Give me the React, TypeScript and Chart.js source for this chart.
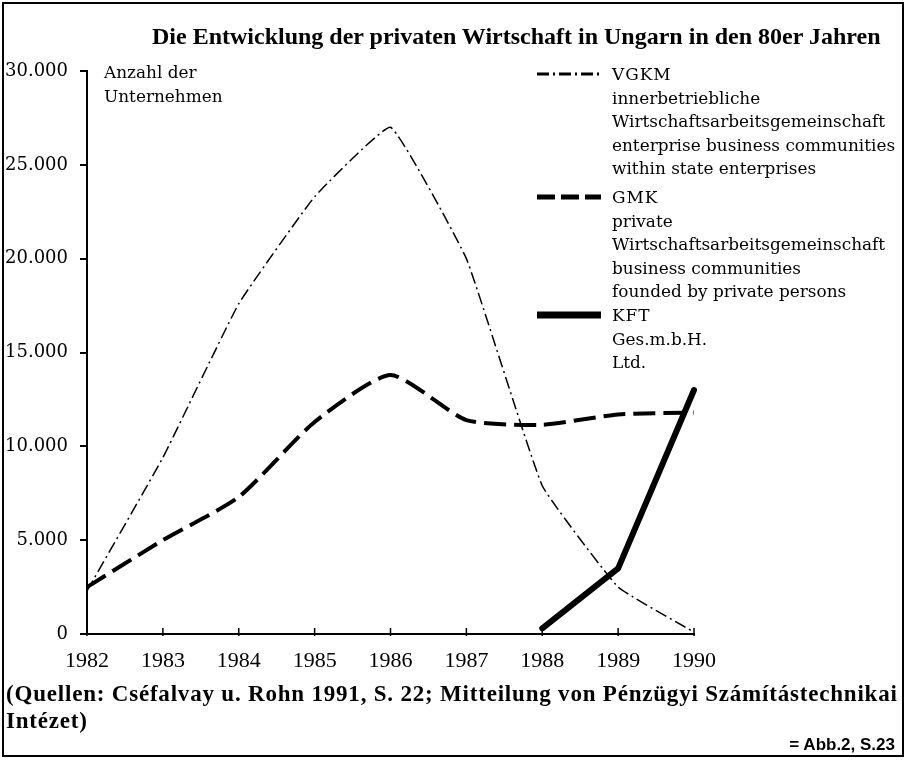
import React, { useEffect, useRef } from "react";
import { Chart, registerables } from "chart.js";

Chart.register(...registerables);

const years = ["1982", "1983", "1984", "1985", "1986", "1987", "1988", "1989", "1990"];
const vgkm = [2300, 9400, 17600, 23300, 27000, 20000, 7900, 2500, 100];
const gmk = [2500, 5000, 7300, 11300, 13800, 11400, 11150, 11700, 11800];
const kft = [null, null, null, null, null, null, 300, 3500, 13000];

const title = "Die Entwicklung der privaten Wirtschaft in Ungarn in den 80er Jahren";
const yTitle = ["Anzahl der", "Unternehmen"];
const legendVGKM = ["VGKM", "innerbetriebliche", "Wirtschaftsarbeitsgemeinschaft", "enterprise business communities", "within state enterprises"];
const legendGMK = ["GMK", "private", "Wirtschaftsarbeitsgemeinschaft", "business communities", "founded by private persons"];
const legendKFT = ["KFT", "Ges.m.b.H.", "Ltd."];
const source1 = "(Quellen: Cséfalvay u. Rohn 1991, S. 22; Mitteilung von Pénzügyi Számítástechnikai";
const source2 = "Intézet)";
const ref = "= Abb.2, S.23";

const SERIF = '"DejaVu Serif", serif';
const TIMES = '"Liberation Serif", serif';

const fmt = (v: number) => String(v).replace(/\B(?=(\d{3})+(?!\d))/g, ".");

const xTickPlugin = {
  id: "xTicksUp",
  afterDraw(chart: any) {
    const x = chart.scales.x;
    const ctx = chart.ctx;
    const bottom = chart.chartArea.bottom;
    ctx.save();
    ctx.strokeStyle = "#000";
    ctx.lineWidth = 1.5;
    years.forEach((_, i) => {
      const px = x.getPixelForValue(i);
      ctx.beginPath();
      ctx.moveTo(px, bottom + 2);
      ctx.lineTo(px, bottom - 6);
      ctx.stroke();
    });
    ctx.restore();
  },
};

function LegendBlock({ lines, top, dash, width }: { lines: string[]; top: number; dash: string; width: number }) {
  return (
    <>
      <svg style={{ position: "absolute", left: 535, top: top - 6, width: 70, height: 12 }}>
        <line x1={2} y1={6} x2={66} y2={6} stroke="#000" strokeWidth={width} strokeDasharray={dash} strokeLinecap="butt" />
      </svg>
      {lines.map((t, i) => (
        <div
          key={i}
          style={{
            position: "absolute",
            left: 612,
            top: top - 12 + i * 23.6,
            height: 24,
            lineHeight: "24px",
            fontFamily: SERIF,
            fontSize: 16.9,
            whiteSpace: "nowrap",
            letterSpacing: i === 0 ? 1 : 0,
            color: "#000",
          }}
        >
          {t}
        </div>
      ))}
    </>
  );
}

export default function App() {
  const canvasRef = useRef<HTMLCanvasElement>(null);

  useEffect(() => {
    const chart = new Chart(canvasRef.current as HTMLCanvasElement, {
      type: "line",
      data: {
        labels: years,
        datasets: [
          {
            label: "VGKM",
            data: vgkm,
            borderColor: "#000",
            borderWidth: 1.5,
            borderDash: [12, 4, 2, 4],
            pointRadius: 0,
            tension: 0.1,
            fill: false,
          },
          {
            label: "GMK",
            data: gmk,
            borderColor: "#000",
            borderWidth: 4,
            borderDash: [22, 8],
            pointRadius: 0,
            tension: 0.2,
            fill: false,
          },
          {
            label: "KFT",
            data: kft,
            borderColor: "#000",
            borderWidth: 6,
            borderCapStyle: "round",
            borderJoinStyle: "round",
            pointRadius: 0,
            tension: 0,
            fill: false,
          },
        ],
      },
      options: {
        animation: false,
        responsive: false,
        devicePixelRatio: 1,
        layout: { padding: { left: 0, top: 71, right: 214, bottom: 88 } },
        plugins: { legend: { display: false }, tooltip: { enabled: false }, title: { display: false } },
        scales: {
          x: {
            type: "category",
            offset: false,
            afterFit: (s: any) => {
              s.height = 40;
            },
            border: { color: "#000", width: 2 },
            grid: { display: true, drawOnChartArea: false, drawTicks: false, color: "#000" },
            ticks: {
              color: "#000",
              padding: 14,
              maxRotation: 0,
              autoSkip: false,
              font: { family: TIMES, size: 22 },
            },
          },
          y: {
            min: 0,
            max: 30000,
            afterFit: (s: any) => {
              s.width = 87;
            },
            border: { color: "#000", width: 2 },
            grid: { drawOnChartArea: false, drawTicks: true, tickLength: 7, color: "#000", lineWidth: 2 },
            ticks: {
              stepSize: 5000,
              color: "#000",
              padding: 12,
              font: { family: SERIF, size: 18 },
              callback: (v: any) => fmt(Number(v)),
            },
          },
        },
      },
      plugins: [xTickPlugin],
    } as any);
    return () => chart.destroy();
  }, []);

  return (
    <div style={{ position: "fixed", left: 0, top: 0, width: 908, height: 762, background: "#fff", overflow: "hidden" }}>
      <div
        style={{
          position: "absolute",
          left: 2,
          top: 2,
          width: 902,
          height: 755,
          border: "2px solid #000",
          boxSizing: "border-box",
        }}
      />
      <canvas ref={canvasRef} width={908} height={762} style={{ position: "absolute", left: 0, top: 0, width: 908, height: 762 }} />
      <div
        style={{
          position: "absolute",
          left: 152,
          top: 21,
          lineHeight: "30px",
          fontFamily: TIMES,
          fontWeight: "bold",
          fontSize: 24,
          whiteSpace: "nowrap",
          color: "#000",
        }}
      >
        {title}
      </div>
      {yTitle.map((t, i) => (
        <div
          key={i}
          style={{
            position: "absolute",
            left: 104,
            top: 60 + i * 24,
            lineHeight: "24px",
            fontFamily: SERIF,
            fontSize: 16.9,
            whiteSpace: "nowrap",
            color: "#000",
          }}
        >
          {t}
        </div>
      ))}
      <LegendBlock lines={legendVGKM} top={74} dash="12 4 2 4" width={3} />
      <LegendBlock lines={legendGMK} top={197} dash="18 6" width={5} />
      <LegendBlock lines={legendKFT} top={315} dash="" width={7} />
      <div
        style={{
          position: "absolute",
          left: 6,
          top: 680,
          lineHeight: "27px",
          fontFamily: TIMES,
          fontWeight: "bold",
          fontSize: 23,
          letterSpacing: 0.8,
          whiteSpace: "nowrap",
          color: "#000",
        }}
      >
        {source1}
        <br />
        {source2}
      </div>
      <div
        style={{
          position: "absolute",
          right: 13,
          top: 734,
          lineHeight: "22px",
          fontFamily: '"Liberation Sans", sans-serif',
          fontWeight: "bold",
          fontSize: 17,
          whiteSpace: "nowrap",
          color: "#000",
        }}
      >
        {ref}
      </div>
    </div>
  );
}
